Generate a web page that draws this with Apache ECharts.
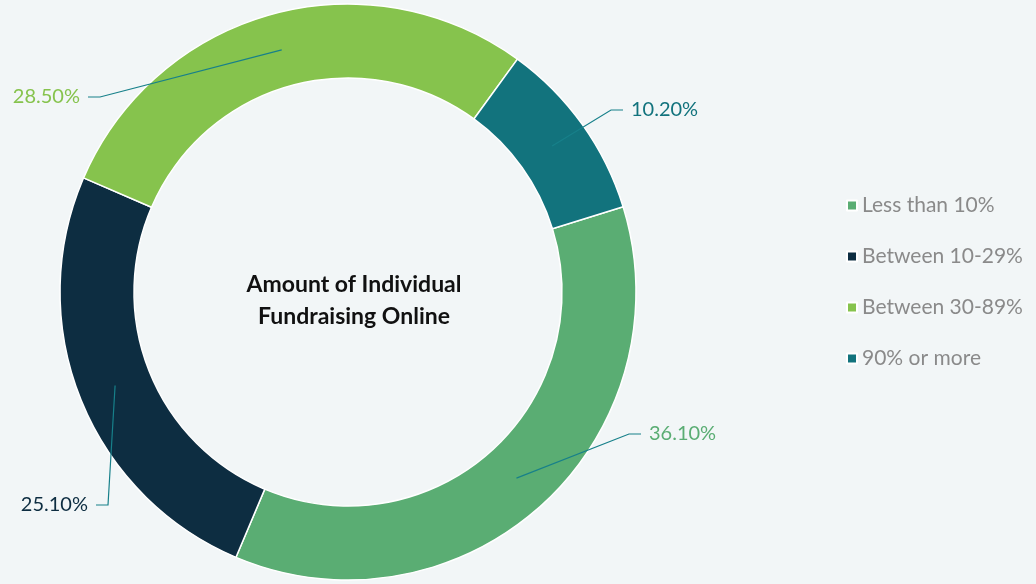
<!DOCTYPE html>
<html>
<head>
<meta charset="utf-8">
<title>Amount of Individual Fundraising Online</title>
<script src="https://cdn.jsdelivr.net/npm/echarts@6/dist/echarts.min.js"></script>
<style>
  html, body { margin: 0; padding: 0; background: #f2f6f7; }
  #chart { width: 1036px; height: 584px; }
</style>
</head>
<body>
<div id="chart"></div>
<script>
// Share of individual fundraising done online
const categories = ['Less than 10%', 'Between 10-29%', 'Between 30-89%', '90% or more'];
const shares = [36.1, 25.1, 28.5, 10.2];
const sliceColors = ['#5aad73', '#0d2d41', '#86c34d', '#12737d'];

const CENTER = [348, 292];
const RADIUS = [214, 288];
const START_ANGLE = 17.2;
const FONT = 'Lato, "Open Sans", sans-serif';

// Elbow of each callout line and the side its label sits on
const calloutElbows = [
  [629, 434, 'right'],
  [108, 505, 'left'],
  [100, 97, 'left'],
  [611, 110, 'right']
];

const total = shares.reduce((a, b) => a + b, 0);
function midAngleOf(i) {
  let before = 0;
  for (let k = 0; k < i; k++) before += shares[k];
  return (START_ANGLE - 360 * (before + shares[i] / 2) / total) * Math.PI / 180;
}

const ringData = categories.map((name, i) => ({
  name: name,
  value: shares[i],
  itemStyle: { color: sliceColors[i] }
}));

// same slices, invisible, only used to place the callouts on top of the ring
const calloutData = categories.map((name, i) => ({
  name: name,
  value: shares[i],
  itemStyle: { color: 'rgba(0,0,0,0)' },
  label: { color: sliceColors[i] }
}));

const chart = echarts.init(document.getElementById('chart'), null, { renderer: 'canvas' });

chart.setOption({
  backgroundColor: '#f2f6f7',
  animation: false,
  title: {
    text: 'Amount of Individual\nFundraising Online',
    left: CENTER[0] + 1,
    top: 296,
    textAlign: 'center',
    textVerticalAlign: 'middle',
    textStyle: {
      fontFamily: FONT,
      fontSize: 23,
      fontWeight: 'bold',
      color: '#111111',
      lineHeight: 32
    }
  },
  legend: {
    orient: 'vertical',
    left: 841,
    top: 190,
    icon: 'rect',
    itemWidth: 10,
    itemHeight: 10,
    itemGap: 30,
    selectedMode: false,
    data: categories,
    textStyle: {
      fontFamily: FONT,
      fontSize: 21,
      color: '#8a8a8a',
      lineHeight: 21
    }
  },
  series: [
    {
      type: 'pie',
      z: 2,
      center: CENTER,
      radius: RADIUS,
      startAngle: START_ANGLE,
      clockwise: true,
      emphasis: { disabled: true },
      itemStyle: { borderColor: '#ffffff', borderWidth: 1.5 },
      label: { show: false },
      labelLine: { show: false },
      data: ringData
    },
    {
      type: 'pie',
      z: 5,
      silent: true,
      legendHoverLink: false,
      center: CENTER,
      radius: RADIUS,
      startAngle: START_ANGLE,
      clockwise: true,
      avoidLabelOverlap: false,
      emphasis: { disabled: true },
      itemStyle: { borderWidth: 0 },
      data: calloutData,
      label: {
        show: true,
        position: 'outside',
        fontFamily: FONT,
        fontSize: 20,
        formatter: p => p.value.toFixed(2) + '%'
      },
      labelLine: {
        show: true,
        length: 10,
        length2: 10,
        lineStyle: { color: '#17808a', width: 1.2 }
      },
      labelLayout: function (p) {
        const i = p.dataIndex;
        const elbow = calloutElbows[i];
        const dir = elbow[2] === 'right' ? 1 : -1;
        const a = midAngleOf(i);
        const rMid = (RADIUS[0] + RADIUS[1]) / 2;
        const start = [CENTER[0] + rMid * Math.cos(a), CENTER[1] - rMid * Math.sin(a)];
        const end = [elbow[0] + dir * 12, elbow[1]];
        return {
          x: end[0] + dir * 8,
          y: elbow[1],
          align: dir > 0 ? 'left' : 'right',
          verticalAlign: 'middle',
          labelLinePoints: [start, [elbow[0], elbow[1]], end]
        };
      }
    }
  ]
});
</script>
</body>
</html>
